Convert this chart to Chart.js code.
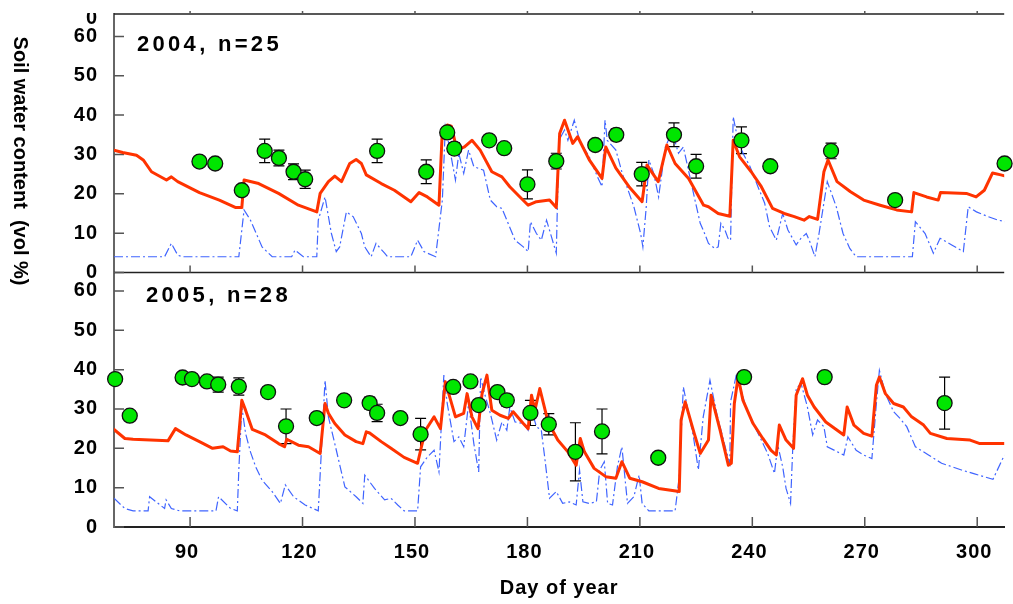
<!DOCTYPE html>
<html>
<head>
<meta charset="utf-8">
<script src="https://cdn.jsdelivr.net/npm/chart.js@4.4.1/dist/chart.umd.min.js"></script>
<style>
  html, body { margin: 0; padding: 0; background: #fff; overflow: hidden; }
  canvas { display: block; }
</style>
</head>
<body>
<canvas id="soilChart" width="1013" height="604"></canvas>
<script>
// axis ticks
const dayTicks = [90, 120, 150, 180, 210, 240, 270, 300];
const vwcTicks = [0, 10, 20, 30, 40, 50, 60];
const dayRange = [69.7, 307.2];
const topRange = [0, 65.7];
const botRange = [0, 64.7];

// 2004 - red line
const red04Days = [69.7, 72, 75.7, 77.5, 79.7, 83.7, 85.0, 86.7, 92.5, 97.8, 102.2, 103.8, 104.4, 108.3, 113.6, 118.9, 123.8, 124.7, 126.9, 128.6, 130.4, 132.6, 134.3, 135.7, 137.0, 141.0, 144.5, 148.9, 151.1, 153.3, 156.4, 157.3, 158.6, 159.7, 161.2, 163.2, 165.2, 167.4, 170.5, 173.2, 175.3, 178.0, 180.2, 182.4, 185.9, 187.7, 188.6, 189.9, 192.1, 193.4, 196.5, 199.9, 200.9, 203.6, 207.1, 210.6, 211.9, 214.9, 217.2, 219.4, 223.0, 227.0, 228.3, 230.9, 234.0, 234.9, 236.6, 239.7, 242.4, 245.4, 248.5, 251.2, 253.8, 255.2, 257.4, 259.1, 260.2, 262.6, 266.2, 269.7, 274.1, 278.5, 282.5, 283.1, 286.5, 289.6, 290.2, 297.1, 299.7, 301.9, 304.1, 306.3, 307.5];
const red04Vals = [31.1, 30.5, 29.8, 28.6, 25.6, 23.5, 24.3, 23.1, 20.3, 18.4, 16.5, 16.5, 23.5, 22.6, 20.1, 17.1, 15.4, 20.1, 23.1, 24.5, 23.1, 27.7, 28.7, 27.7, 24.8, 22.6, 20.9, 18.0, 20.3, 19.2, 17.1, 36.2, 37.5, 37.2, 31.1, 31.9, 33.6, 31.1, 25.6, 24.3, 21.8, 19.2, 17.1, 18.0, 18.4, 16.5, 35.3, 38.7, 32.8, 34.5, 28.6, 23.9, 31.9, 26.5, 21.8, 18.0, 27.3, 23.1, 32.4, 27.7, 23.9, 17.1, 16.7, 15.0, 14.3, 33.6, 29.4, 25.6, 21.8, 16.3, 15.0, 14.2, 13.3, 14.2, 13.5, 25.6, 28.6, 23.1, 20.5, 18.4, 17.1, 15.9, 15.4, 20.3, 19.2, 18.4, 20.3, 20.1, 19.2, 20.9, 25.3, 24.8, 24.5];

// 2004 - blue dash-dot line
const blue04Days = [69.7, 83.2, 85.0, 86.7, 88, 103.0, 104.4, 106.1, 109.2, 111.9, 117.1, 118.0, 120.2, 123.8, 124.2, 126.0, 127.7, 129.0, 129.9, 131.7, 133.5, 135.7, 136.6, 138.3, 139.6, 141.9, 142.7, 148.9, 150.7, 152.4, 155.5, 157.3, 158.1, 159.0, 160.8, 161.7, 163.0, 164.3, 165.7, 168.3, 170.1, 171.8, 173.2, 174.5, 176.7, 178.9, 180.2, 180.8, 182.4, 183.7, 185.1, 186.4, 187.7, 188.4, 189.9, 190.8, 192.5, 193.9, 196.5, 198.7, 199.9, 200.7, 201.3, 203.6, 205.3, 208.4, 210.2, 210.8, 211.7, 212.4, 213.7, 215.0, 216.8, 218.6, 220.3, 221.6, 224.7, 226.1, 226.9, 228.3, 230.0, 230.9, 231.6, 232.7, 233.5, 234.2, 234.9, 235.8, 237.5, 239.4, 241.5, 243.3, 244.6, 246.4, 248.1, 249.5, 251.7, 253.0, 254.4, 255.2, 256.7, 257.8, 260.0, 262.4, 264.2, 266.0, 267.7, 282.7, 283.5, 286.1, 288.3, 290.1, 293.2, 296.3, 297.6, 299.8, 302.9, 305.6, 307.5];
const blue04Vals = [4.0, 4.0, 7.4, 4.4, 4.0, 4.0, 15.9, 13.3, 6.5, 4.0, 4.0, 5.7, 4.0, 4.0, 13.3, 19.2, 9.9, 5.3, 6.5, 15.4, 14.2, 9.9, 6.5, 4.0, 7.4, 4.9, 4.0, 4.0, 8.2, 5.3, 4.0, 18.4, 37.0, 32.8, 23.5, 30.3, 25.2, 31.1, 26.9, 26.0, 18.4, 16.7, 16.3, 13.3, 8.2, 6.5, 5.3, 12.9, 9.9, 8.2, 13.3, 9.1, 4.9, 33.6, 36.2, 33.6, 38.7, 33.6, 29.4, 24.3, 21.8, 38.7, 33.6, 31.1, 25.2, 16.7, 9.9, 6.5, 16.7, 28.6, 25.2, 19.2, 31.9, 35.8, 30.3, 31.9, 18.4, 12.5, 10.8, 7.4, 6.1, 6.5, 12.5, 10.8, 8.7, 8.2, 39.6, 35.3, 30.3, 26.9, 21.8, 17.6, 11.6, 8.2, 15.0, 10.8, 7.0, 8.7, 9.9, 8.2, 4.0, 9.9, 23.1, 16.7, 9.9, 6.1, 4.0, 4.0, 12.9, 9.9, 4.9, 8.7, 7.0, 5.3, 16.7, 15.4, 14.2, 13.3, 12.9];

// 2004 - measured (green) with error
const obs04Days = [92.5, 96.7, 103.8, 109.9, 113.7, 117.6, 120.7, 139.9, 153.0, 158.6, 160.5, 169.8, 173.8, 180.0, 187.7, 198.1, 203.7, 210.5, 219.1, 225.0, 237.1, 244.8, 261.0, 278.1, 307.3];
const obs04Vals = [28.2, 27.7, 20.9, 30.9, 29.1, 25.6, 23.7, 30.9, 25.6, 35.6, 31.5, 33.6, 31.6, 22.4, 28.3, 32.4, 35.0, 25.0, 35.0, 27.0, 33.6, 27.0, 30.9, 18.4, 27.7];
const obs04Errs = [0.8, 0.8, 0.8, 3.0, 2.0, 2.0, 2.3, 3.0, 3.0, 1.0, 1.5, 0.8, 0.8, 3.7, 2.0, 0.8, 1.5, 3.0, 3.0, 3.0, 3.4, 0.8, 2.0, 0.8, 0.8];

// 2005 - red line
const red05Days = [69.7, 72.6, 74.8, 84.1, 86.1, 88.9, 92.5, 96.0, 98.8, 100.8, 102.6, 103.8, 104.8, 106.6, 110.1, 113.6, 115.2, 115.8, 118.9, 121.6, 124.7, 126.0, 126.9, 128.6, 131.3, 134.3, 136.1, 137.0, 137.9, 141.0, 143.6, 147.1, 150.7, 151.5, 152.8, 155.1, 156.8, 158.1, 160.8, 163.0, 163.9, 165.2, 166.8, 167.9, 169.2, 170.5, 172.7, 174.9, 176.2, 178.9, 180.2, 181.1, 182.0, 183.3, 185.5, 188.1, 190.8, 193.0, 194.1, 195.2, 197.8, 200.9, 203.6, 205.2, 207.3, 210.6, 215.0, 220.5, 221.0, 222.1, 224.5, 226.1, 228.3, 229.0, 231.4, 233.6, 234.4, 235.2, 236.2, 237.5, 240.2, 242.8, 245.0, 246.4, 247.2, 249.0, 251.0, 251.7, 253.4, 254.7, 256.5, 259.6, 264.4, 265.3, 267.1, 269.7, 271.9, 273.1, 273.9, 275.5, 277.7, 280.3, 282.5, 285.7, 287.5, 291.9, 298.1, 300.7, 307.5];
const red05Vals = [24.8, 22.5, 22.3, 21.9, 25.0, 23.4, 21.7, 20.0, 20.4, 19.3, 19.1, 32.2, 29.7, 24.8, 23.4, 21.2, 20.4, 22.3, 20.8, 20.4, 18.7, 31.4, 28.9, 26.3, 23.4, 21.7, 21.2, 24.2, 23.9, 21.7, 20.0, 17.7, 16.2, 19.5, 24.6, 28.0, 25.0, 36.9, 28.0, 28.9, 33.9, 28.0, 25.0, 33.9, 38.6, 29.7, 28.4, 27.6, 29.3, 26.3, 25.0, 33.5, 29.7, 35.2, 26.7, 22.1, 19.1, 15.7, 22.5, 19.1, 14.9, 12.8, 12.4, 16.6, 12.4, 11.5, 9.8, 9.0, 27.2, 31.8, 23.8, 18.7, 22.1, 33.5, 24.6, 15.7, 16.2, 31.4, 38.1, 32.2, 26.3, 22.5, 19.5, 18.3, 25.9, 22.1, 20.0, 33.5, 37.7, 33.5, 30.5, 26.7, 23.4, 30.5, 25.9, 23.8, 23.1, 36.0, 38.1, 33.9, 31.4, 30.5, 28.0, 25.9, 23.8, 22.5, 22.1, 21.2, 21.2];

// 2005 - blue dash-dot line
const blue05Days = [69.7, 72.6, 74.8, 78.8, 79.2, 83.2, 83.6, 85.0, 87.2, 96.9, 97.6, 100.8, 102.6, 103.0, 103.8, 104.8, 106.1, 107.5, 109.2, 111.9, 114.1, 115.4, 117.6, 120.7, 124.2, 126.0, 126.9, 128.6, 131.3, 134.3, 136.1, 136.6, 139.2, 141.9, 143.6, 145.4, 147.1, 150.7, 151.5, 153.3, 155.1, 156.4, 157.7, 158.6, 160.4, 161.7, 163.0, 164.3, 165.7, 167.0, 167.5, 168.8, 170.1, 171.8, 173.2, 174.5, 175.3, 176.7, 178.9, 180.2, 181.1, 182.4, 183.7, 184.6, 185.9, 187.7, 189.4, 191.2, 193.0, 193.9, 194.8, 196.5, 198.4, 199.3, 200.5, 201.4, 202.7, 204.0, 205.2, 206.7, 208.4, 209.8, 210.6, 212.4, 219.4, 220.5, 221.6, 223.0, 224.3, 225.6, 226.9, 228.7, 230.5, 233.1, 234.0, 234.2, 235.8, 238.0, 240.2, 242.4, 244.1, 245.9, 246.8, 248.1, 249.0, 250.2, 250.8, 251.7, 253.0, 254.7, 256.1, 257.4, 259.1, 260.0, 264.4, 265.5, 267.7, 269.7, 271.9, 273.1, 273.9, 275.5, 277.7, 279.4, 281.2, 283.5, 287.0, 290.5, 295.8, 299.3, 304.2, 306.8, 307.5];
const blue05Vals = [7.3, 4.7, 4.1, 4.1, 7.7, 4.7, 6.9, 4.7, 4.1, 4.1, 7.7, 4.7, 4.1, 14.5, 30.5, 23.8, 19.1, 15.3, 11.9, 9.0, 6.0, 10.7, 7.7, 5.6, 4.1, 37.3, 28.0, 21.2, 10.2, 7.7, 6.0, 13.2, 9.8, 6.9, 7.3, 5.6, 4.1, 4.1, 15.3, 17.8, 19.5, 14.0, 38.6, 31.4, 21.7, 22.9, 20.4, 31.4, 21.2, 14.0, 38.1, 33.1, 28.9, 22.1, 26.7, 24.6, 30.5, 26.7, 26.3, 24.6, 29.7, 25.5, 24.6, 17.8, 7.3, 9.0, 6.0, 6.4, 5.6, 14.5, 6.4, 6.0, 6.4, 14.5, 16.6, 6.0, 5.6, 15.3, 20.4, 6.0, 7.7, 13.2, 6.0, 4.1, 4.1, 12.8, 35.6, 28.9, 22.9, 14.5, 28.0, 37.3, 28.9, 19.1, 16.2, 31.8, 39.0, 31.4, 26.3, 22.1, 18.7, 13.6, 20.8, 15.3, 9.8, 6.0, 20.4, 35.2, 36.5, 30.5, 23.4, 27.2, 25.5, 20.4, 18.3, 22.9, 19.5, 18.3, 17.4, 31.4, 39.8, 33.9, 29.3, 27.6, 25.5, 20.4, 18.3, 16.2, 14.5, 13.5, 12.1, 17.4, 18.3];

// 2005 - measured (green) with error
const obs05Days = [70.0, 73.9, 88.0, 90.5, 94.5, 97.5, 103.0, 110.8, 115.6, 123.8, 131.1, 137.9, 139.9, 146.1, 151.5, 160.2, 164.8, 167.0, 172.0, 174.5, 180.8, 185.7, 192.8, 199.9, 214.9, 237.8, 259.3, 291.3];
const obs05Vals = [37.6, 28.3, 38.0, 37.6, 37.0, 36.2, 35.7, 34.3, 25.6, 27.7, 32.2, 31.5, 29.0, 27.7, 23.6, 35.6, 37.0, 31.0, 34.3, 32.2, 29.0, 26.1, 19.1, 24.3, 17.6, 38.1, 38.1, 31.5];
const obs05Errs = [0.8, 0.8, 0.8, 0.8, 0.8, 1.9, 2.2, 0.8, 4.4, 0.8, 0.8, 1.5, 2.2, 0.8, 4.0, 0.8, 0.8, 0.8, 0.8, 1.5, 3.2, 2.7, 7.4, 5.7, 0.8, 0.8, 0.8, 6.6];

const panelLabels = ['2004, n=25', '2005, n=28'];
const yTitle = 'Soil water content  (vol %)';
const xTitle = 'Day of year';
const cutLabel = '0';

const FONT = "'Liberation Sans', Arial, sans-serif";
const RED = '#ff3300';
const BLUE = '#3f64ff';
const GREEN = '#00e600';

function pts(days, vals) {
    return days.map((d, i) => ({ x: d, y: vals[i] }));
}

function redLine(days, vals, axis) {
    return {
        type: 'line', data: pts(days, vals), yAxisID: axis,
        borderColor: RED, borderWidth: 3, pointRadius: 0, tension: 0,
        borderJoinStyle: 'round', borderCapStyle: 'round', showLine: true
    };
}

function blueLine(days, vals, axis) {
    return {
        type: 'line', data: pts(days, vals), yAxisID: axis,
        borderColor: BLUE, borderWidth: 1.2, borderDash: [9, 3, 2, 3],
        pointRadius: 0, tension: 0, showLine: true
    };
}

function obsPoints(days, vals, axis) {
    return {
        type: 'scatter', data: pts(days, vals), yAxisID: axis, clip: false,
        pointRadius: 7.5, pointHoverRadius: 7.5,
        backgroundColor: GREEN, borderColor: '#111', borderWidth: 1.3
    };
}

function errorBars(ctx, xs, ys, days, vals, errs) {
    for (let i = 0; i < days.length; i++) {
        const px = xs.getPixelForValue(days[i]);
        const lo = ys.getPixelForValue(vals[i] - errs[i]);
        const hi = ys.getPixelForValue(vals[i] + errs[i]);
        ctx.moveTo(px, lo); ctx.lineTo(px, hi);
        ctx.moveTo(px - 5.5, lo); ctx.lineTo(px + 5.5, lo);
        ctx.moveTo(px - 5.5, hi); ctx.lineTo(px + 5.5, hi);
    }
}

// frame, inward ticks, error bars and the free texts
const panelDecor = {
    id: 'panelDecor',
    beforeDraw(chart) {
        chart.ctx.letterSpacing = '1px';
    },
    beforeDatasetsDraw(chart) {
        const { ctx, chartArea: a, scales } = chart;
        const xs = scales.x, yt = scales.yTop, yb = scales.yBot;
        ctx.save();
        ctx.strokeStyle = '#222';
        ctx.lineWidth = 1.5;
        ctx.beginPath();
        ctx.moveTo(a.left, yt.top); ctx.lineTo(a.right, yt.top);
        ctx.moveTo(a.left, yt.bottom); ctx.lineTo(a.right, yt.bottom);
        ctx.stroke();

        ctx.strokeStyle = '#555';
        ctx.lineWidth = 1.5;
        ctx.beginPath();
        for (const v of vwcTicks) {
            for (const s of [yt, yb]) {
                const p = s.getPixelForValue(v);
                ctx.moveTo(a.left, p); ctx.lineTo(a.left + 10, p);
            }
        }
        for (const d of dayTicks) {
            const p = xs.getPixelForValue(d);
            ctx.moveTo(p, yb.bottom); ctx.lineTo(p, yb.bottom - 10);
            ctx.moveTo(p, yt.bottom); ctx.lineTo(p, yt.bottom - 7);
            ctx.moveTo(p, yt.top); ctx.lineTo(p, yt.top - 3);
        }
        ctx.stroke();

        ctx.strokeStyle = '#000';
        ctx.lineWidth = 1.2;
        ctx.beginPath();
        errorBars(ctx, xs, yt, obs04Days, obs04Vals, obs04Errs);
        errorBars(ctx, xs, yb, obs05Days, obs05Vals, obs05Errs);
        ctx.stroke();
        ctx.restore();
    },
    afterDraw(chart) {
        const { ctx } = chart;
        ctx.save();
        ctx.fillStyle = '#000';

        // y title, reading downwards
        ctx.save();
        ctx.letterSpacing = '0px';
        ctx.translate(20, 161);
        ctx.rotate(Math.PI / 2);
        ctx.font = 'bold 20px ' + FONT;
        ctx.textAlign = 'center';
        ctx.textBaseline = 'middle';
        ctx.fillText(yTitle, 0, 0);
        ctx.restore();

        // panel labels
        ctx.font = 'bold 22px ' + FONT;
        ctx.letterSpacing = '3.3px';
        ctx.textAlign = 'left';
        ctx.textBaseline = 'middle';
        ctx.fillText(panelLabels[0], 137, 45);
        ctx.fillText(panelLabels[1], 146, 296);

        // tick label of the panel above, cut by the figure edge
        ctx.save();
        ctx.beginPath();
        ctx.rect(0, 13, 114, 20);
        ctx.clip();
        ctx.letterSpacing = '1px';
        ctx.font = 'bold 20px ' + FONT;
        ctx.textAlign = 'right';
        ctx.fillText(cutLabel, 98, 18);
        ctx.restore();

        ctx.restore();
    }
};

function yAxis(range, weight) {
    return {
        type: 'linear', position: 'left', stack: 'panels', stackWeight: range[1] - range[0],
        weight: weight, min: range[0], max: range[1],
        grid: { display: false, drawTicks: false },
        border: { display: true, color: '#666', width: 2 },
        ticks: { padding: 16, autoSkip: false, color: '#000', font: { family: FONT, size: 20, weight: 'bold' } },
        afterBuildTicks: s => { s.ticks = vwcTicks.map(v => ({ value: v })); },
        afterFit: s => { s.width = 114; s.paddingTop = 0; s.paddingBottom = 0; }
    };
}

const ctx = document.getElementById('soilChart').getContext('2d');
const soilChart = new Chart(ctx, {
    type: 'scatter',
    data: {
        datasets: [
            obsPoints(obs04Days, obs04Vals, 'yTop'),
            obsPoints(obs05Days, obs05Vals, 'yBot'),
            redLine(red04Days, red04Vals, 'yTop'),
            redLine(red05Days, red05Vals, 'yBot'),
            blueLine(blue04Days, blue04Vals, 'yTop'),
            blueLine(blue05Days, blue05Vals, 'yBot')
        ]
    },
    options: {
        responsive: false,
        animation: false,
        events: [],
        layout: { padding: { top: 14, left: 0, right: 0, bottom: 0 } },
        plugins: { legend: { display: false }, tooltip: { enabled: false } },
        scales: {
            x: {
                type: 'linear', min: dayRange[0], max: dayRange[1],
                grid: { display: false, drawTicks: false },
                border: { display: true, color: '#222', width: 2 },
                ticks: { padding: 13, labelOffset: -3, autoSkip: false, color: '#000', font: { family: FONT, size: 20, weight: 'bold' } },
                title: { display: true, text: xTitle, color: '#000', padding: { top: 0, bottom: 4 },
                         font: { family: FONT, size: 20, weight: 'bold' } },
                afterBuildTicks: s => { s.ticks = dayTicks.map(v => ({ value: v })); },
                afterFit: s => { s.height = 77; s.paddingLeft = 0; s.paddingRight = 0; }
            },
            yTop: yAxis(topRange, 2),
            yBot: yAxis(botRange, 1)
        }
    },
    plugins: [panelDecor]
});
</script>
</body>
</html>
